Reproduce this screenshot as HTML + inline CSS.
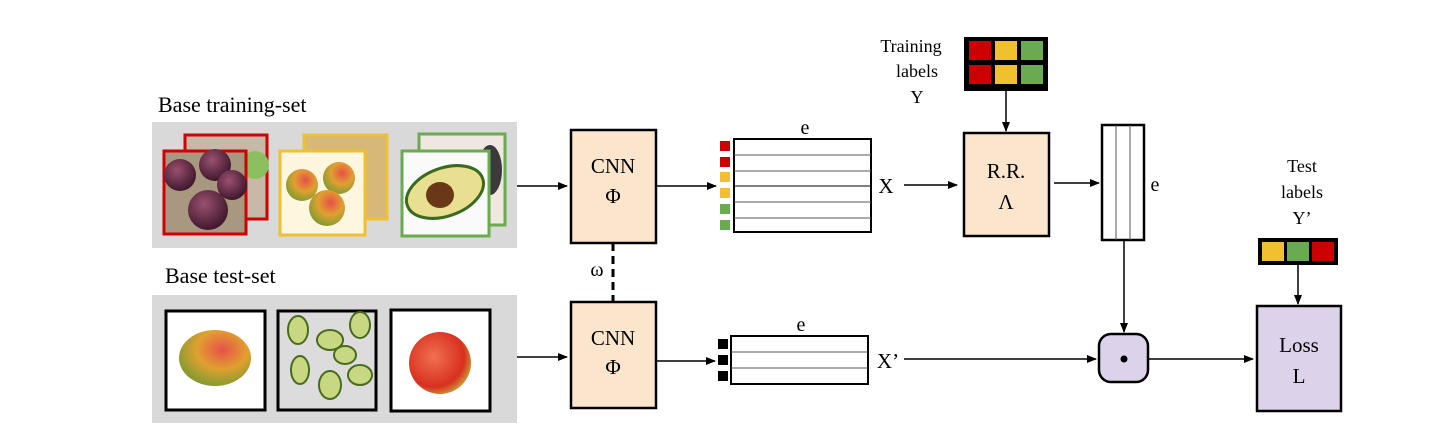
<!DOCTYPE html>
<html><head><meta charset="utf-8"><style>body{margin:0;background:#fff}svg{display:block}text{font-family:"Liberation Serif",serif;fill:#000}</style></head><body>
<svg width="1449" height="436" viewBox="0 0 1449 436" xmlns="http://www.w3.org/2000/svg">
<defs>
<marker id="a" markerWidth="10" markerHeight="8" refX="9" refY="4" orient="auto" markerUnits="userSpaceOnUse"><path d="M0,0L10,4L0,8z" fill="#000"/></marker>
<radialGradient id="mango" cx="0.6" cy="0.35" r="0.7"><stop offset="0" stop-color="#e8504a"/><stop offset="0.5" stop-color="#e0a030"/><stop offset="1" stop-color="#7a9a30"/></radialGradient>
<radialGradient id="apple" cx="0.4" cy="0.4" r="0.7"><stop offset="0" stop-color="#f07050"/><stop offset="0.7" stop-color="#d83020"/><stop offset="1" stop-color="#c8c040"/></radialGradient>
<radialGradient id="plum" cx="0.4" cy="0.35" r="0.7"><stop offset="0" stop-color="#9a5070"/><stop offset="1" stop-color="#3a1428"/></radialGradient>
</defs>
<text x="158" y="112" font-size="22">Base training-set</text>
<text x="165" y="283" font-size="22">Base test-set</text>
<rect x="152" y="122" width="365" height="126" fill="#d9d9d9"/>
<rect x="152" y="295" width="365" height="128" fill="#d9d9d9"/>
<rect x="185" y="135" width="82" height="84" fill="#c8b8a8" stroke="#d00000" stroke-width="3"/>
<circle cx="255" cy="165" r="14" fill="#8cbf60"/>
<rect x="164" y="151" width="82" height="83" fill="#a89880" stroke="#d00000" stroke-width="3"/>
<circle cx="180" cy="175" r="16" fill="url(#plum)"/><circle cx="215" cy="165" r="16" fill="url(#plum)"/><circle cx="232" cy="185" r="15" fill="url(#plum)"/><circle cx="208" cy="210" r="20" fill="url(#plum)"/>
<rect x="304" y="135" width="83" height="84" fill="#d8b878" stroke="#f0c030" stroke-width="3"/>
<rect x="280" y="151" width="85" height="84" fill="#fff6e0" stroke="#f0c030" stroke-width="3"/>
<circle cx="302" cy="185" r="16" fill="url(#mango)"/><circle cx="339" cy="178" r="16" fill="url(#mango)"/><circle cx="327" cy="208" r="18" fill="url(#mango)"/>
<rect x="419" y="134" width="86" height="91" fill="#f0e8e0" stroke="#6aaa50" stroke-width="3"/>
<ellipse cx="490" cy="170" rx="12" ry="25" fill="#3a3a3a"/>
<rect x="402" y="151" width="87" height="85" fill="#fafafa" stroke="#6aaa50" stroke-width="3"/>
<ellipse cx="445" cy="192" rx="40" ry="24" transform="rotate(-20 445 192)" fill="#e8e090" stroke="#3a6a20" stroke-width="3"/>
<ellipse cx="440" cy="195" rx="14" ry="13" fill="#6a3818"/>
<rect x="166" y="311" width="99" height="99" fill="#fff" stroke="#000" stroke-width="3"/>
<ellipse cx="215" cy="358" rx="36" ry="28" fill="url(#mango)"/>
<rect x="278" y="311" width="98" height="99" fill="#dcdcdc" stroke="#000" stroke-width="3"/>
<g fill="#c8d880" stroke="#4a6a20" stroke-width="2"><ellipse cx="298" cy="330" rx="10" ry="14"/><ellipse cx="330" cy="340" rx="13" ry="10"/><ellipse cx="360" cy="325" rx="10" ry="13"/><ellipse cx="300" cy="370" rx="9" ry="14"/><ellipse cx="330" cy="385" rx="11" ry="14"/><ellipse cx="360" cy="375" rx="12" ry="10"/><ellipse cx="345" cy="355" rx="11" ry="9"/></g>
<rect x="391" y="310" width="99" height="101" fill="#fff" stroke="#000" stroke-width="3"/>
<circle cx="440" cy="363" r="31" fill="url(#apple)"/>
<line x1="517" y1="186" x2="567" y2="186" stroke="#000" stroke-width="1.5" marker-end="url(#a)"/>
<line x1="517" y1="357" x2="567" y2="357" stroke="#000" stroke-width="1.5" marker-end="url(#a)"/>
<rect x="571" y="130" width="85" height="113" fill="#fce5cd" stroke="#000" stroke-width="2.5"/>
<text x="613" y="173" font-size="21" text-anchor="middle">CNN</text><text x="613" y="203" font-size="21" text-anchor="middle">Φ</text>
<rect x="571" y="302" width="85" height="106" fill="#fce5cd" stroke="#000" stroke-width="2.5"/>
<text x="613" y="345" font-size="21" text-anchor="middle">CNN</text><text x="613" y="374" font-size="21" text-anchor="middle">Φ</text>
<line x1="613" y1="243" x2="613" y2="302" stroke="#000" stroke-width="3" stroke-dasharray="8,5"/>
<text x="597" y="276" font-size="20" text-anchor="middle">ω</text>
<line x1="656" y1="186" x2="716" y2="186" stroke="#000" stroke-width="1.5" marker-end="url(#a)"/>
<line x1="656" y1="361" x2="715" y2="361" stroke="#000" stroke-width="1.5" marker-end="url(#a)"/>
<text x="805" y="134" font-size="20" text-anchor="middle">e</text>
<rect x="734" y="139" width="137" height="93" fill="#fff" stroke="#000" stroke-width="2"/>
<g stroke="#555" stroke-width="1"><line x1="734" y1="155" x2="871" y2="155"/><line x1="734" y1="171" x2="871" y2="171"/><line x1="734" y1="186" x2="871" y2="186" stroke="#000"/><line x1="734" y1="202" x2="871" y2="202"/><line x1="734" y1="218" x2="871" y2="218"/></g>
<rect x="720" y="141" width="10" height="10" fill="#cc0000"/><rect x="720" y="157" width="10" height="10" fill="#cc0000"/>
<rect x="720" y="172" width="10" height="10" fill="#f0c030"/><rect x="720" y="188" width="10" height="10" fill="#f0c030"/>
<rect x="720" y="204" width="10" height="10" fill="#6aaa50"/><rect x="720" y="220" width="10" height="10" fill="#6aaa50"/>
<text x="886" y="193" font-size="21" text-anchor="middle">X</text>
<line x1="904" y1="185" x2="957" y2="185" stroke="#000" stroke-width="1.5" marker-end="url(#a)"/>
<text x="911" y="52" font-size="18" text-anchor="middle">Training</text>
<text x="917" y="77" font-size="18" text-anchor="middle">labels</text>
<text x="917" y="103" font-size="18" text-anchor="middle">Y</text>
<rect x="964" y="37" width="84" height="54" fill="#000"/>
<rect x="969" y="41" width="22" height="19" fill="#cc0000"/><rect x="995" y="41" width="22" height="19" fill="#f0c030"/><rect x="1021" y="41" width="22" height="19" fill="#6aaa50"/>
<rect x="969" y="65" width="22" height="19" fill="#cc0000"/><rect x="995" y="65" width="22" height="19" fill="#f0c030"/><rect x="1021" y="65" width="22" height="19" fill="#6aaa50"/>
<line x1="1006" y1="91" x2="1006" y2="131" stroke="#000" stroke-width="1.5" marker-end="url(#a)"/>
<rect x="964" y="133" width="85" height="103" fill="#fce5cd" stroke="#000" stroke-width="2.5"/>
<text x="1006" y="178" font-size="21" text-anchor="middle">R.R.</text><text x="1006" y="209" font-size="21" text-anchor="middle">Λ</text>
<line x1="1054" y1="183" x2="1099" y2="183" stroke="#000" stroke-width="1.5" marker-end="url(#a)"/>
<rect x="1102" y="125" width="42" height="115" fill="#fff" stroke="#000" stroke-width="2.5"/>
<line x1="1116" y1="125" x2="1116" y2="240" stroke="#555"/><line x1="1130" y1="125" x2="1130" y2="240" stroke="#555"/>
<text x="1155" y="191" font-size="20" text-anchor="middle">e</text>
<line x1="1124" y1="240" x2="1124" y2="332" stroke="#000" stroke-width="1.5" marker-end="url(#a)"/>
<text x="801" y="331" font-size="20" text-anchor="middle">e</text>
<rect x="731" y="336" width="137" height="48" fill="#fff" stroke="#000" stroke-width="2"/>
<line x1="731" y1="352" x2="868" y2="352" stroke="#555"/><line x1="731" y1="368" x2="868" y2="368" stroke="#555"/>
<rect x="718" y="339" width="10" height="10" fill="#000"/><rect x="718" y="355" width="10" height="10" fill="#000"/><rect x="718" y="371" width="10" height="10" fill="#000"/>
<text x="888" y="368" font-size="21" text-anchor="middle">X’</text>
<line x1="904" y1="359" x2="1096" y2="359" stroke="#000" stroke-width="1.5" marker-end="url(#a)"/>
<rect x="1099" y="334" width="49" height="48" rx="12" fill="#dcd3ea" stroke="#000" stroke-width="2.5"/>
<circle cx="1124" cy="359" r="3.5" fill="#000"/>
<line x1="1148" y1="359" x2="1253" y2="359" stroke="#000" stroke-width="1.5" marker-end="url(#a)"/>
<text x="1302" y="172" font-size="18" text-anchor="middle">Test</text>
<text x="1302" y="198" font-size="18" text-anchor="middle">labels</text>
<text x="1302" y="224" font-size="18" text-anchor="middle">Y’</text>
<rect x="1258" y="238" width="80" height="27" fill="#000"/>
<rect x="1262" y="242" width="22" height="19" fill="#f0c030"/><rect x="1287" y="242" width="22" height="19" fill="#6aaa50"/><rect x="1312" y="242" width="22" height="19" fill="#cc0000"/>
<line x1="1298" y1="265" x2="1298" y2="304" stroke="#000" stroke-width="1.5" marker-end="url(#a)"/>
<rect x="1257" y="306" width="84" height="105" fill="#dcd3ea" stroke="#000" stroke-width="2.5"/>
<text x="1299" y="352" font-size="21" text-anchor="middle">Loss</text><text x="1299" y="383" font-size="21" text-anchor="middle">L</text>
</svg>
</body></html>
